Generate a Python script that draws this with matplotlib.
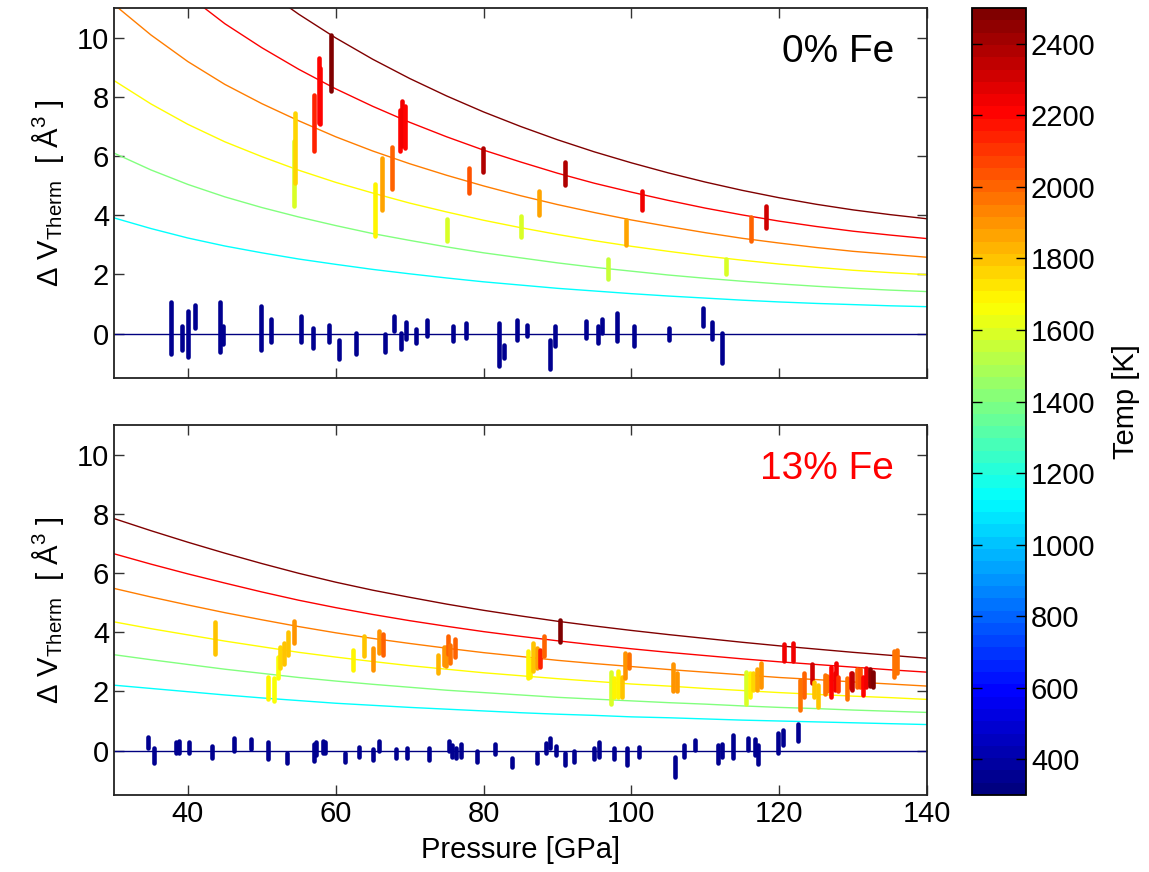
import matplotlib
matplotlib.use('Agg')
import matplotlib.pyplot as plt
import matplotlib.colors as mcolors
import matplotlib.cm as cm

plt.rcParams['font.family'] = ['Liberation Sans', 'DejaVu Sans']
plt.rcParams['mathtext.default'] = 'regular'

# ---- model curves (every 5 GPa) ----
curve_p = [30, 35, 40, 45, 50, 55, 60, 65, 70, 75, 80, 85, 90, 95, 100,
           105, 110, 115, 120, 125, 130, 135, 140]
curve_temps = [1125, 1400, 1675, 1950, 2225, 2500]

# 0% Fe panel
top_curves = [
    [3.91, 3.55, 3.23, 2.96, 2.73, 2.52, 2.34, 2.17, 2.02, 1.88, 1.75, 1.64,
     1.53, 1.44, 1.35, 1.27, 1.20, 1.13, 1.07, 1.02, 0.98, 0.94, 0.91],
    [6.10, 5.53, 5.04, 4.62, 4.26, 3.94, 3.65, 3.38, 3.15, 2.93, 2.73, 2.56,
     2.39, 2.24, 2.11, 1.98, 1.87, 1.77, 1.68, 1.60, 1.53, 1.47, 1.42],
    [8.55, 7.76, 7.07, 6.48, 5.98, 5.52, 5.11, 4.75, 4.41, 4.11, 3.83, 3.58,
     3.35, 3.14, 2.95, 2.78, 2.62, 2.48, 2.35, 2.24, 2.14, 2.06, 1.99],
    [11.12, 10.09, 9.19, 8.42, 7.77, 7.19, 6.65, 6.17, 5.74, 5.35, 4.99, 4.66,
     4.36, 4.09, 3.84, 3.62, 3.41, 3.22, 3.06, 2.91, 2.78, 2.68, 2.58],
    [13.83, 12.54, 11.43, 10.47, 9.66, 8.93, 8.27, 7.68, 7.14, 6.65, 6.20, 5.80,
     5.42, 5.08, 4.78, 4.50, 4.24, 4.01, 3.80, 3.62, 3.46, 3.33, 3.21],
    [16.70, 15.15, 13.80, 12.65, 11.67, 10.79, 9.99, 9.27, 8.62, 8.03, 7.49, 7.00,
     6.55, 6.14, 5.77, 5.43, 5.12, 4.84, 4.59, 4.37, 4.18, 4.02, 3.88],
]
# 13% Fe panel
bot_curves = [
    [2.21, 2.10, 1.99, 1.88, 1.78, 1.69, 1.60, 1.53, 1.46, 1.40, 1.34, 1.28,
     1.23, 1.19, 1.14, 1.11, 1.07, 1.03, 1.00, 0.97, 0.94, 0.91, 0.88],
    [3.24, 3.07, 2.91, 2.75, 2.61, 2.47, 2.35, 2.24, 2.14, 2.04, 1.96, 1.88,
     1.80, 1.74, 1.68, 1.62, 1.57, 1.51, 1.46, 1.42, 1.37, 1.33, 1.29],
    [4.35, 4.12, 3.91, 3.70, 3.51, 3.32, 3.16, 3.01, 2.87, 2.75, 2.63, 2.53,
     2.43, 2.34, 2.25, 2.18, 2.10, 2.03, 1.96, 1.90, 1.84, 1.79, 1.73],
    [5.48, 5.19, 4.92, 4.66, 4.42, 4.19, 3.98, 3.79, 3.62, 3.46, 3.31, 3.18,
     3.05, 2.94, 2.84, 2.74, 2.65, 2.56, 2.47, 2.40, 2.32, 2.25, 2.18],
    [6.65, 6.30, 5.97, 5.66, 5.36, 5.08, 4.83, 4.60, 4.39, 4.20, 4.02, 3.86,
     3.71, 3.57, 3.44, 3.32, 3.21, 3.10, 3.00, 2.91, 2.82, 2.73, 2.65],
    [7.84, 7.43, 7.04, 6.67, 6.32, 5.99, 5.69, 5.42, 5.18, 4.95, 4.74, 4.55,
     4.37, 4.21, 4.06, 3.92, 3.79, 3.66, 3.54, 3.43, 3.32, 3.22, 3.12],
]
room_T = 300

# ---- heated measurements, 0% Fe ----
top_p = [54.4, 54.5, 57.1, 57.7, 57.9, 59.3, 65.3, 66.2, 67.6, 68.7, 69.0, 69.4,
         75.1, 78.1, 79.9, 85.1, 87.5, 91.0, 96.9, 99.3, 101.5, 112.8, 116.2, 118.2]
top_lo = [4.30, 5.09, 6.16, 7.12, 7.09, 8.19, 3.31, 4.17, 4.87, 6.16, 6.33, 6.27,
          3.12, 4.75, 5.46, 3.25, 4.02, 5.01, 1.85, 3.01, 4.16, 2.03, 3.12, 3.56]
top_hi = [6.50, 7.45, 8.07, 9.31, 8.98, 10.10, 5.07, 5.93, 6.30, 7.57, 7.85, 7.68,
          3.87, 5.60, 6.27, 3.96, 4.81, 5.79, 2.53, 3.85, 4.81, 2.53, 3.94, 4.32]
top_t = [1600, 1750, 2150, 2200, 2200, 2500, 1700, 1850, 2000, 2200, 2250, 2200,
         1600, 2050, 2380, 1600, 1850, 2380, 1550, 1850, 2250, 1600, 2000, 2300]

# ---- room temperature measurements, 0% Fe ----
top_cold_p = [37.65, 39.14, 40.04, 40.95, 44.34, 44.79, 49.90, 51.25, 55.32, 56.90,
              59.03, 60.43, 62.73, 66.71, 67.84, 68.83, 69.51, 70.91, 72.36, 75.89,
              77.56, 82.08, 82.76, 84.47, 85.92, 89.0, 89.72, 93.83, 95.50, 96.09,
              97.99, 100.3, 105.1, 109.7, 110.9, 112.2]
top_cold_lo = [-0.68, -0.56, -0.79, 0.19, -0.63, -0.34, -0.56, -0.29, -0.27, -0.50,
               -0.29, -0.86, -0.68, -0.61, 0.08, -0.52, -0.18, -0.31, -0.09, -0.26,
               -0.15, -1.08, -0.82, -0.23, -0.09, -1.18, -0.41, -0.15, -0.31, 0.02,
               -0.26, -0.43, -0.20, 0.25, -0.18, -0.99]
top_cold_hi = [1.06, 0.25, 0.75, 0.98, 1.06, 0.25, 0.92, 0.50, 0.61, 0.19,
               0.30, -0.22, 0.02, -0.01, 0.61, 0.02, 0.38, 0.14, 0.47, 0.25,
               0.36, 0.36, -0.37, 0.45, 0.30, -0.23, 0.25, 0.42, 0.27, 0.50,
               0.68, 0.27, 0.19, 0.87, 0.38, 0.02]

# ---- heated measurements, 13% Fe ----
bot_p = [43.6, 50.9, 51.6, 52.25, 52.4, 53.0, 53.5, 54.4, 62.4, 63.8, 65.1, 65.8, 66.4,
         73.9, 74.6, 74.9, 75.2, 75.5, 76.2, 86.0, 86.3, 86.7, 87.2, 87.6, 88.2, 90.35,
         97.3, 97.7, 98.2, 98.7, 99.2, 99.7, 105.7, 106.2, 115.5, 116.0, 116.4, 117.0,
         117.6, 120.7, 121.9, 122.8, 123.3, 124.4, 124.7, 125.2, 126.2, 126.5, 127.0,
         127.5, 127.7, 128.0, 129.2, 129.7, 129.9, 130.5, 131.0, 131.4, 131.8, 132.3,
         132.7, 135.6, 136.0]
bot_lo = [3.27, 1.73, 1.69, 2.45, 2.78, 2.93, 3.23, 3.65, 2.73, 3.20, 2.73, 3.31, 3.22,
          2.61, 2.88, 2.87, 3.27, 2.95, 3.15, 2.44, 2.50, 2.70, 2.78, 2.82, 3.20, 3.68,
          1.58, 1.82, 1.82, 1.82, 2.44, 2.78, 2.03, 2.03, 1.58, 1.82, 2.05, 2.05,
          2.16, 3.04, 3.04, 1.37, 1.82, 2.27, 1.82, 1.49, 1.92, 2.00, 1.82,
          2.05, 2.27, 2.00, 1.73, 2.11, 2.05, 2.16, 2.16, 1.88, 2.16, 2.19,
          2.16, 2.50, 2.61]
bot_hi = [4.34, 2.50, 2.45, 3.15, 3.51, 3.65, 4.00, 4.38, 3.40, 3.87, 3.45, 4.05, 3.94,
          3.22, 3.49, 3.51, 3.87, 3.58, 3.76, 3.38, 3.06, 3.65, 3.46, 3.40, 3.87, 4.41,
          2.64, 2.44, 2.70, 2.50, 3.29, 3.27, 2.93, 2.61, 2.64, 2.61, 2.61, 2.75,
          2.95, 3.60, 3.65, 2.39, 2.61, 2.93, 2.33, 2.22, 2.56, 2.52, 2.84,
          2.61, 2.97, 2.50, 2.44, 2.61, 2.61, 2.75, 2.75, 2.50, 2.78, 2.75,
          2.67, 3.35, 3.40]
bot_t = [1800, 1700, 1650, 1650, 1750, 1800, 1800, 1900, 1680, 1800, 1900, 1900, 2000,
         1820, 1900, 1900, 2000, 1950, 2000, 1700, 1700, 1780, 1850, 2150, 2000, 2500,
         1600, 1700, 1680, 1780, 1900, 1950, 1900, 1900, 1600, 1700, 1750, 1850,
         1900, 2250, 2250, 1950, 2000, 2300, 1800, 1800, 1950, 1950, 2200,
         2250, 2250, 2100, 1950, 2250, 2350, 2000, 2050, 2200, 2250, 2450,
         2500, 1950, 1950]

# ---- room temperature measurements, 13% Fe ----
bot_cold_p = [34.6, 35.4, 38.4, 38.8, 40.1, 43.3, 46.2, 48.5, 50.8, 53.4, 57.0, 57.4,
              58.3, 58.6, 61.2, 63.1, 65.1, 65.9, 68.2, 69.6, 72.6, 75.3, 75.8, 76.3,
              77.0, 79.1, 81.6, 83.8, 87.2, 88.5, 89.0, 89.8, 91.0, 92.3, 94.9, 95.6,
              97.7, 99.4, 101.1, 105.9, 107.1, 108.6, 111.7, 112.2, 113.8, 115.8, 116.7,
              117.2, 119.9, 120.5, 122.6]
bot_cold_lo = [0.08, -0.43, -0.09, -0.09, -0.07, -0.26, -0.03, 0.05, -0.29, -0.43, -0.34, -0.15,
               -0.07, -0.09, -0.40, -0.23, -0.31, -0.03, -0.26, -0.26, -0.31, -0.03, -0.23, -0.26,
               -0.20, -0.40, -0.11, -0.54, -0.43, -0.07, 0.08, -0.15, -0.48, -0.37, -0.29, -0.23,
               -0.29, -0.48, -0.23, -0.88, -0.20, 0.03, -0.43, -0.20, -0.26, 0.03, -0.15,
               -0.45, -0.09, 0.19, 0.34]
bot_cold_hi = [0.45, 0.08, 0.30, 0.34, 0.30, 0.14, 0.42, 0.38, 0.30, -0.07, 0.23, 0.30,
               0.34, 0.30, -0.09, 0.11, 0.05, 0.34, 0.05, 0.08, 0.08, 0.34, 0.19, 0.08,
               0.23, -0.03, 0.23, -0.26, -0.07, 0.27, 0.42, 0.14, -0.09, 0.00, 0.08, 0.30,
               0.08, 0.08, 0.11, -0.20, 0.19, 0.36, 0.19, 0.23, 0.53, 0.42, 0.38,
               0.19, 0.59, 0.70, 0.90]
cold_T = 350

temp_ticks = [400, 600, 800, 1000, 1200, 1400, 1600, 1800, 2000, 2200, 2400]

# ---- MATLAB style jet ----
jet_segments = {
    'red':   [(0, 0, 0), (0.375, 0, 0), (0.625, 1, 1), (0.875, 1, 1), (1, 0.5, 0.5)],
    'green': [(0, 0, 0), (0.125, 0, 0), (0.375, 1, 1), (0.625, 1, 1), (0.875, 0, 0), (1, 0, 0)],
    'blue':  [(0, 0.5, 0.5), (0.125, 1, 1), (0.375, 1, 1), (0.625, 0, 0), (1, 0, 0)],
}
cmap = mcolors.LinearSegmentedColormap('mjet', jet_segments, N=256)
cmap64 = mcolors.LinearSegmentedColormap('mjet64', jet_segments, N=64)
norm = mcolors.Normalize(vmin=300, vmax=2500)

fig = plt.figure(figsize=(11.49, 8.72), dpi=100)
ax_top = fig.add_axes([0.0992, 0.5665, 0.7076, 0.4243])
ax_bot = fig.add_axes([0.0992, 0.0883, 0.7076, 0.4243])
cax = fig.add_axes([0.846, 0.0883, 0.047, 0.9025])


def draw_panel(ax, curves, cp, clo, chi, hp, hlo, hhi, ht):
    ax.plot([curve_p[0], curve_p[-1]], [0, 0], color=cmap64(norm(room_T)), lw=1.0)
    for vals, T in zip(curves, curve_temps):
        ax.plot(curve_p, vals, color=cmap(norm(T)), lw=1.0)
    ax.vlines(cp, clo, chi, colors=[cmap64(norm(cold_T))] * len(cp),
              linewidth=3.3, capstyle='round')
    ax.vlines(hp, hlo, hhi, colors=[cmap64(norm(t)) for t in ht],
              linewidth=3.3, capstyle='round')
    ax.set_xlim(30, 140)
    ax.set_ylim(-1.5, 11)
    ax.set_yticks([0, 2, 4, 6, 8, 10])
    ax.set_xticks([40, 60, 80, 100, 120, 140])
    ax.tick_params(direction='in', top=True, right=True, length=7, width=1,
                   color='#333333', labelsize=21)
    for s in ax.spines.values():
        s.set_linewidth(1.3)
        s.set_color('#222222')
    ax.set_ylabel('Δ V$_{Therm}$  [ Å$^{3}$ ]', fontsize=21, labelpad=8)


draw_panel(ax_top, top_curves, top_cold_p, top_cold_lo, top_cold_hi,
           top_p, top_lo, top_hi, top_t)
draw_panel(ax_bot, bot_curves, bot_cold_p, bot_cold_lo, bot_cold_hi,
           bot_p, bot_lo, bot_hi, bot_t)
ax_top.tick_params(labelbottom=False)
ax_bot.set_xlabel('Pressure [GPa]', fontsize=21, labelpad=6)

ax_top.text(135.5, 9.5, '0% Fe', fontsize=28, ha='right', va='center', color='black')
ax_bot.text(135.5, 9.5, '13% Fe', fontsize=28, ha='right', va='center', color='red')

cb = fig.colorbar(cm.ScalarMappable(norm=norm, cmap=cmap64), cax=cax)
cb.set_ticks(temp_ticks)
cax.tick_params(direction='in', left=True, right=True, length=7, width=1,
                labelsize=21)
cb.outline.set_linewidth(1.3)
cb.set_label('Temp [K]', fontsize=21, labelpad=12)

fig.savefig('out.png', dpi=100)
